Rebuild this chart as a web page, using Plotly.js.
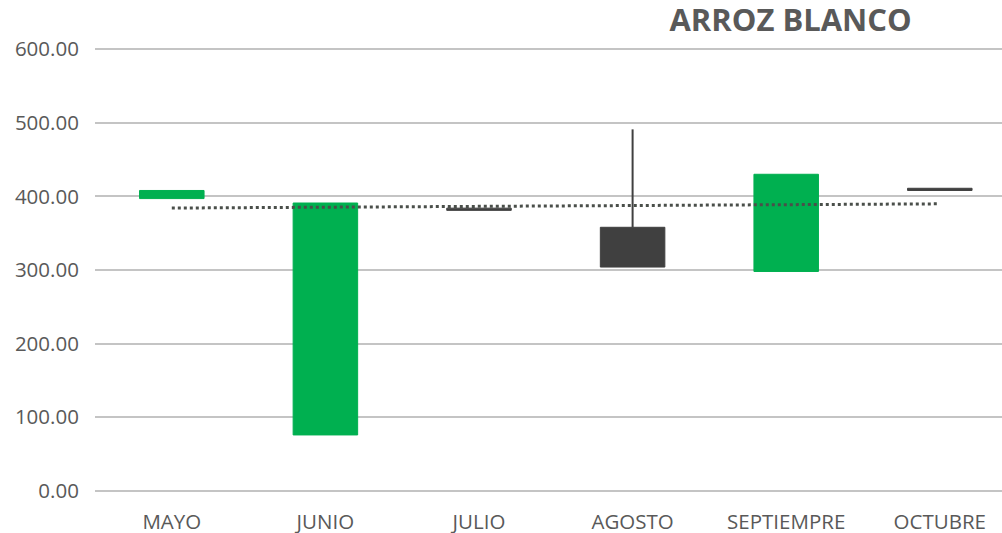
<!DOCTYPE html>
<html>
<head>
<meta charset="utf-8">
<script src="https://cdn.plot.ly/plotly-3.0.1.min.js"></script>
<style>html,body{margin:0;padding:0;background:#fff;}#chart{width:1002px;height:533px;}</style>
</head>
<body>
<div id="chart"></div>
<script>
// Data (ARROZ BLANCO)
const months = ["MAYO", "JUNIO", "JULIO", "AGOSTO", "SEPTIEMPRE", "OCTUBRE"];
const openV  = [397, 76, 384, 358, 298, 411];
const closeV = [408, 391, 381, 304, 430, 408];
const highV  = [408, 391, 384, 491, 430, 411];
const lowV   = [397, 76, 381, 304, 298, 408];
const yTicks = [0, 100, 200, 300, 400, 500, 600];

const UP = "#00B050", DOWN = "#404040";

// Candle bodies as floating bars
const bodyBase = openV.map((o, i) => Math.min(o, closeV[i]));
const bodyLen  = openV.map((o, i) => Math.abs(closeV[i] - o));
const bodyCol  = openV.map((o, i) => closeV[i] >= o ? UP : DOWN);

// Wicks: only the parts beyond the body
const wx = [], wy = [];
months.forEach((m, i) => {
  const top = Math.max(openV[i], closeV[i]);
  const bot = Math.min(openV[i], closeV[i]);
  if (highV[i] > top) { wx.push(m, m, null); wy.push(top, highV[i], null); }
  if (lowV[i] < bot)  { wx.push(m, m, null); wy.push(lowV[i], bot, null); }
});

// Linear trendline on closing values (as Excel's trendline)
const n = closeV.length;
const xs = closeV.map((_, i) => i);
const mx = xs.reduce((a, b) => a + b, 0) / n;
const my = closeV.reduce((a, b) => a + b, 0) / n;
let sxy = 0, sxx = 0;
xs.forEach((x, i) => { sxy += (x - mx) * (closeV[i] - my); sxx += (x - mx) * (x - mx); });
const slope = sxy / sxx, icpt = my - slope * mx;
const trendY = xs.map(x => icpt + slope * x);

const traces = [
  {
    type: "bar", x: months, y: bodyLen, base: bodyBase, width: 0.42,
    marker: { color: bodyCol, line: { color: bodyCol, width: 1 } },
    hoverinfo: "skip", showlegend: false
  },
  {
    type: "scatter", mode: "lines", x: wx, y: wy,
    line: { color: DOWN, width: 2 }, hoverinfo: "skip", showlegend: false
  },
  {
    type: "scatter", mode: "lines", x: months, y: trendY,
    line: { color: "#4a4f4a", width: 3, dash: "dot" }, hoverinfo: "skip", showlegend: false
  }
];

const layout = {
  width: 1002, height: 533,
  margin: { l: 95, r: 0, t: 48, b: 41 },
  paper_bgcolor: "#ffffff", plot_bgcolor: "#ffffff",
  font: { family: "Open Sans, sans-serif", color: "#595959", size: 20 },
  title: {
    text: "<b>ARROZ BLANCO</b>",
    font: { family: "Open Sans, sans-serif", size: 31, color: "#595959" },
    xref: "container", yref: "container", x: 0.789, y: 0.962,
    xanchor: "center", yanchor: "middle"
  },
  xaxis: {
    type: "category", range: [-0.5, 5.405],
    showgrid: false, zeroline: false, showline: false,
    ticks: "outside", ticklen: 11, tickcolor: "rgba(0,0,0,0)",
    tickfont: { size: 20.5, color: "#595959" }
  },
  yaxis: {
    range: [-1.5, 601.5], tickvals: yTicks,
    ticktext: yTicks.map(v => v.toFixed(2)),
    showgrid: true, gridcolor: "#c4c4c4", gridwidth: 2,
    zeroline: false, showline: false,
    ticks: "outside", ticklen: 11, tickcolor: "rgba(0,0,0,0)",
    tickfont: { size: 20.5, color: "#595959" }
  },
  bargap: 0
};

Plotly.newPlot("chart", traces, layout, { displayModeBar: false, staticPlot: true });
</script>
</body>
</html>
